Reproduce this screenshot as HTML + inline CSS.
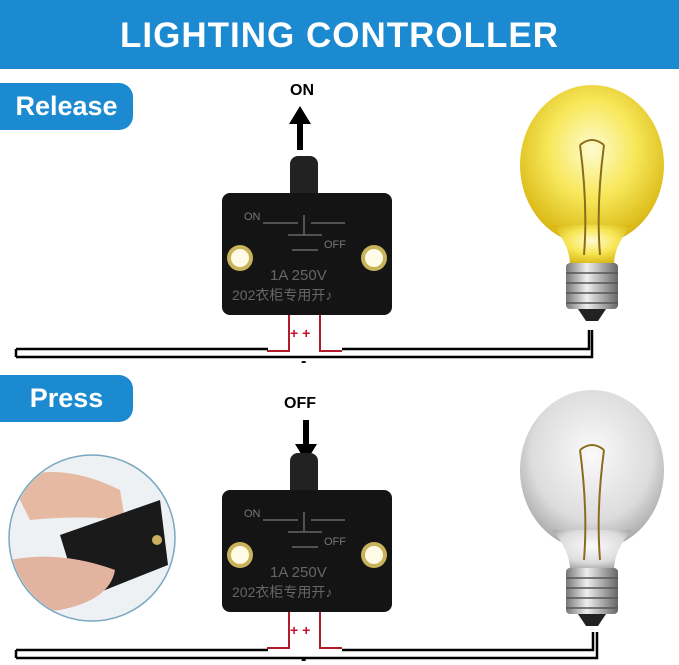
<!DOCTYPE html>
<html><head><meta charset="utf-8"><style>
body{margin:0;width:679px;height:665px;background:#fff;overflow:hidden;position:relative;font-family:"Liberation Sans","Noto Sans CJK SC",sans-serif}
.hdr{position:absolute;left:0;top:0;width:679px;height:69px;background:#1b8ad0;color:#fff;font-weight:bold;font-size:35px;text-align:center;line-height:72px;letter-spacing:1px}
.pill{position:absolute;left:0;width:133px;height:47px;background:#1b8ad0;border-radius:0 14px 14px 0;color:#fff;font-weight:bold;font-size:27px;line-height:47px;text-align:center}
.t{position:absolute;font-weight:bold;font-size:16px;color:#000}
</style></head><body>
<div class="hdr">LIGHTING CONTROLLER</div>
<div class="pill" style="top:83px">Release</div>
<div class="pill" style="top:375px;width:133px">Press</div>
<div class="t" style="left:290px;top:82px">ON</div>
<div class="t" style="left:284px;top:395px">OFF</div>
<svg width="679" height="665" style="position:absolute;left:0;top:0">
<defs>
<radialGradient id="y" cx="0.5" cy="0.4" r="0.6"><stop offset="0" stop-color="#fffbd0"/><stop offset="0.5" stop-color="#f7e85a"/><stop offset="1" stop-color="#d8b510"/></radialGradient>
<radialGradient id="g" cx="0.5" cy="0.4" r="0.6"><stop offset="0" stop-color="#fafafa"/><stop offset="0.7" stop-color="#dcdcdc"/><stop offset="1" stop-color="#a9a9a9"/></radialGradient>
<linearGradient id="s" x1="0" x2="1"><stop offset="0" stop-color="#777"/><stop offset="0.4" stop-color="#eee"/><stop offset="1" stop-color="#666"/></linearGradient>
<clipPath id="cc"><circle cx="92" cy="538" r="82"/></clipPath>
<g id="sw">
<rect x="290" y="-37" width="28" height="45" rx="8" fill="#222"/>
<rect x="222" y="0" width="170" height="122" rx="8" fill="#141414"/>
<circle cx="240" cy="65" r="13" fill="#c9b35a"/><circle cx="240" cy="65" r="9" fill="#fffbe6"/>
<circle cx="374" cy="65" r="13" fill="#c9b35a"/><circle cx="374" cy="65" r="9" fill="#fffbe6"/>
<g stroke="#666" stroke-width="1.5" fill="none"><path d="M263 30h35M311 30h34M304 22v20M288 42h34M292 57h26"/></g>
<text x="244" y="27" fill="#777" font-size="11">ON</text><text x="324" y="55" fill="#777" font-size="11">OFF</text>
<text x="270" y="87" fill="#666" font-size="15">1A 250V</text>
<text x="232" y="107" fill="#666" font-size="14">202衣柜专用开♪</text>
<path d="M289 122v36h-22M320 122v36h22" stroke="#b01c2a" stroke-width="2" fill="none"/>
<text x="290" y="145" fill="#c8102e" font-size="14" font-weight="bold">+ +</text>
</g>
<g id="bulb">
<ellipse cx="0" cy="0" rx="72" ry="80" />
<path d="M-40 60 Q-22 80 -22 100 L22 100 Q22 80 40 60Z"/>
<path d="M-12 -20 Q-4 40 -8 90 M12 -20 Q4 40 8 90 M-12 -20 Q0 -30 12 -20" stroke="#8a6d1e" stroke-width="2" fill="none"/>
<rect x="-26" y="98" width="52" height="46" rx="4" fill="url(#s)"/>
<path d="M-26 108h52M-26 118h52M-26 128h52M-26 138h52" stroke="#555" stroke-width="1.5"/>
<path d="M-14 144 L14 144 L6 156 L-6 156Z" fill="#222"/>
</g>
</defs>
<path d="M300 150V118" stroke="#000" stroke-width="6"/><path d="M289 124l11-18l11 18z" fill="#000"/>
<path d="M306 420V448" stroke="#000" stroke-width="6"/><path d="M295 444l11 18l11-18z" fill="#000"/>
<use href="#sw" x="0" y="193"/>
<use href="#sw" x="0" y="490"/>
<g fill="none" stroke="#000" stroke-width="2.5">
<path d="M16 349H268M342 349H589V330M16 357H592V330M16 349V357"/>
<path d="M16 650H268M342 650H593V632M16 658H597V632M16 650V658"/>
</g>
<text x="301" y="366" font-size="16" font-weight="bold">-</text>
<text x="301" y="664" font-size="16" font-weight="bold">-</text>
<use href="#bulb" x="592" y="165" fill="url(#y)"/>
<use href="#bulb" x="592" y="470" fill="url(#g)"/>
<circle cx="92" cy="538" r="83" fill="#eef1f3" stroke="#7aa8c0" stroke-width="1.5"/>
<g clip-path="url(#cc)">
<path d="M10 480 Q60 460 120 490 L125 520 Q80 515 30 520Z" fill="#e6b9a3"/>
<path d="M60 535 L160 500 L168 565 L80 600Z" fill="#1a1a1a"/>
<path d="M10 560 Q60 550 115 570 Q110 600 60 610 L10 615Z" fill="#e2b39e"/>
<circle cx="157" cy="540" r="5" fill="#cbb060"/>
</g>
</svg>
</body></html>
